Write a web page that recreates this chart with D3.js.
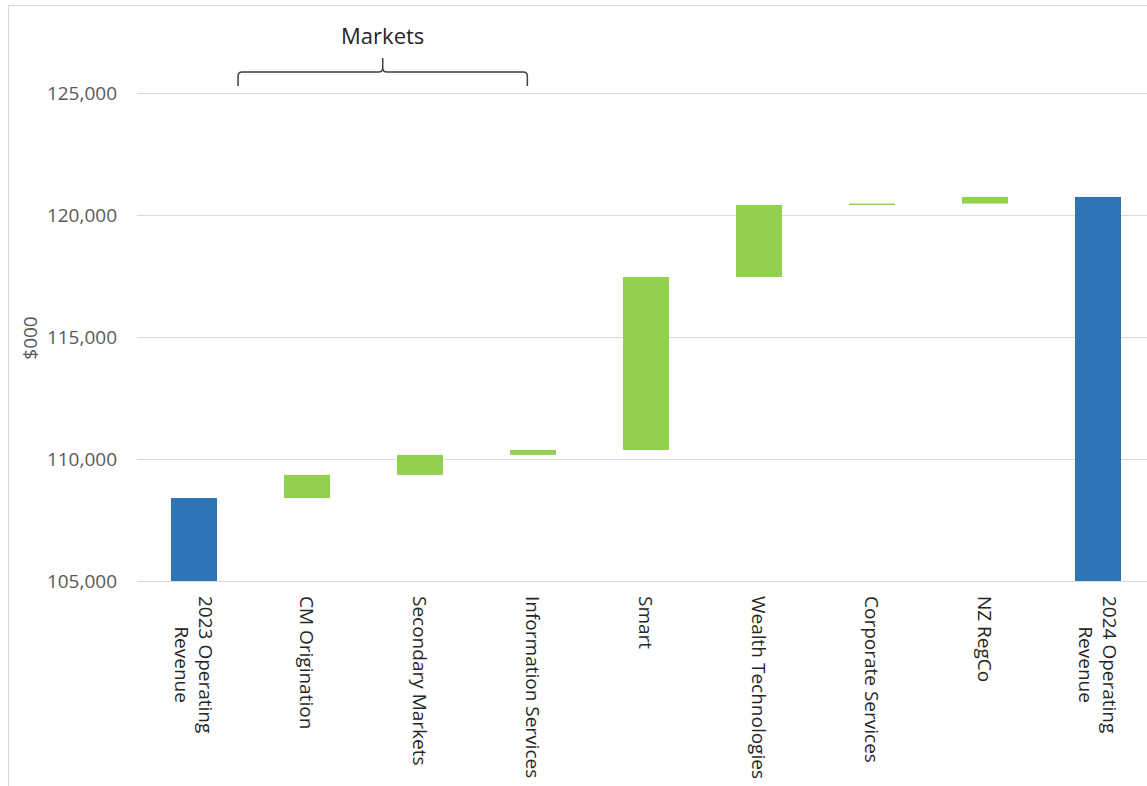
<!DOCTYPE html>
<html>
<head>
<meta charset="utf-8">
<script src="https://cdn.jsdelivr.net/npm/d3@7"></script>
<style>
  body { margin: 0; background: #fff; }
  svg { display: block; font-family: "Open Sans", "Noto Sans", sans-serif; }
</style>
</head>
<body>
<div id="chart"></div>
<script>
/**
 * DATA
 * */
const categories = [
  "2023 Operating Revenue",
  "CM Origination",
  "Secondary Markets",
  "Information Services",
  "Smart",
  "Wealth Technologies",
  "Corporate Services",
  "NZ RegCo",
  "2024 Operating Revenue"
];
// label lines as they wrap in the picture
const labelLines = [
  ["2023 Operating", "Revenue"],
  ["CM Origination"],
  ["Secondary Markets"],
  ["Information Services"],
  ["Smart"],
  ["Wealth Technologies"],
  ["Corporate Services"],
  ["NZ RegCo"],
  ["2024 Operating", "Revenue"]
];
const startValue = 108400;
const deltas = [950, 820, 200, 7090, 2950, 60, 270];
const endValue = 120740;
const yTicks = [105000, 110000, 115000, 120000, 125000];
const bracketLabel = "Markets";

/**
 * CONSTANTS
 * */
const width = 1147,
  height = 786,
  margin = { top: 93, bottom: 205, left: 137.5, right: -7.5 };

const fontFamily = '"Open Sans", "Noto Sans", sans-serif';
const blue = "#2e75b6",
  green = "#92d050",
  gridColor = "#d9d9d9",
  textColor = "#595959";

// build waterfall rows
let running = startValue;
const rows = [{ name: categories[0], lo: yTicks[0], hi: startValue, total: true }];
deltas.forEach((d, i) => {
  rows.push({ name: categories[i + 1], lo: running, hi: running + d, total: false });
  running += d;
});
rows.push({ name: categories[categories.length - 1], lo: yTicks[0], hi: endValue, total: true });

const svg = d3.select("#chart")
  .append("svg")
  .attr("width", width)
  .attr("height", height);

// outer frame
svg.append("rect")
  .attr("x", 8.5).attr("y", 5.5)
  .attr("width", width).attr("height", height + 10)
  .attr("fill", "none")
  .attr("stroke", gridColor);

// SCALES
const xScale = d3.scaleBand()
  .domain(categories)
  .range([margin.left, width - margin.right])
  .paddingInner(0.593)
  .paddingOuter(0.2965);

const yScale = d3.scaleLinear()
  .domain([105000, 125000])
  .range([height - margin.bottom, margin.top]);

// GRIDLINES + Y AXIS
const yAxis = d3.axisLeft(yScale)
  .tickValues(yTicks)
  .tickFormat(d3.format(","))
  .tickSize(-(width - 137))
  .tickPadding(20);

const yG = svg.append("g")
  .attr("transform", `translate(137,0)`)
  .call(yAxis)
  .attr("font-family", fontFamily);
yG.select(".domain").remove();
yG.selectAll(".tick line").attr("stroke", gridColor).attr("stroke-width", 1);
yG.selectAll(".tick text")
  .attr("fill", textColor)
  .attr("font-size", 19);

svg.append("text")
  .attr("transform", `translate(30,338) rotate(-90)`)
  .attr("text-anchor", "middle")
  .attr("dy", "0.35em")
  .attr("fill", textColor)
  .attr("font-size", 19)
  .text("$000");

// BARS
svg.selectAll(".bar")
  .data(rows)
  .join("rect")
  .attr("class", "bar")
  .attr("x", d => xScale(d.name))
  .attr("width", xScale.bandwidth())
  .attr("y", d => yScale(d.hi))
  .attr("height", d => Math.max(1.5, yScale(d.lo) - yScale(d.hi)))
  .attr("fill", d => d.total ? blue : green);

// X LABELS (rotated, reading top to bottom)
const lineH = 24;
const lab = svg.selectAll(".xlab")
  .data(categories.map((c, i) => ({ name: c, lines: labelLines[i] })))
  .join("g")
  .attr("class", "xlab")
  .attr("transform", d => `translate(${xScale(d.name) + xScale.bandwidth() / 2},596) rotate(90)`);

lab.each(function(d) {
  const g = d3.select(this);
  const n = d.lines.length;
  const texts = d.lines.map((line, i) =>
    g.append("text")
      .attr("y", (i - (n - 1) / 2) * lineH)
      .attr("dy", "0.35em")
      .attr("fill", "#262626")
      .attr("font-size", 19)
      .text(line)
  );
  if (n > 1) {
    const maxLen = d3.max(texts, t => t.node().getComputedTextLength());
    texts.forEach(t => t.attr("text-anchor", "middle").attr("x", maxLen / 2));
  }
});

// MARKETS BRACKET
const step = xScale.step();
const bx0 = xScale("CM Origination") + xScale.bandwidth() / 2 - 0.61 * step,
  bx1 = xScale("Information Services") + xScale.bandwidth() / 2 - 0.05 * step,
  bmid = (bx0 + bx1) / 2,
  byEnd = 86, byBar = 72, byTip = 58;

const bracket = d3.path();
bracket.moveTo(bx0, byEnd);
bracket.lineTo(bx0, byBar + 4);
bracket.quadraticCurveTo(bx0, byBar, bx0 + 4, byBar);
bracket.lineTo(bmid - 4, byBar);
bracket.quadraticCurveTo(bmid, byBar, bmid, byBar - 4);
bracket.lineTo(bmid, byTip);
bracket.moveTo(bmid, byBar - 4);
bracket.quadraticCurveTo(bmid, byBar, bmid + 4, byBar);
bracket.lineTo(bx1 - 4, byBar);
bracket.quadraticCurveTo(bx1, byBar, bx1, byBar + 4);
bracket.lineTo(bx1, byEnd);

svg.append("path")
  .attr("d", bracket.toString())
  .attr("fill", "none")
  .attr("stroke", "#404040")
  .attr("stroke-width", 1.5);

svg.append("text")
  .attr("x", bmid)
  .attr("y", 44)
  .attr("text-anchor", "middle")
  .attr("fill", "#262626")
  .attr("font-size", 22)
  .text(bracketLabel);
</script>
</body>
</html>
